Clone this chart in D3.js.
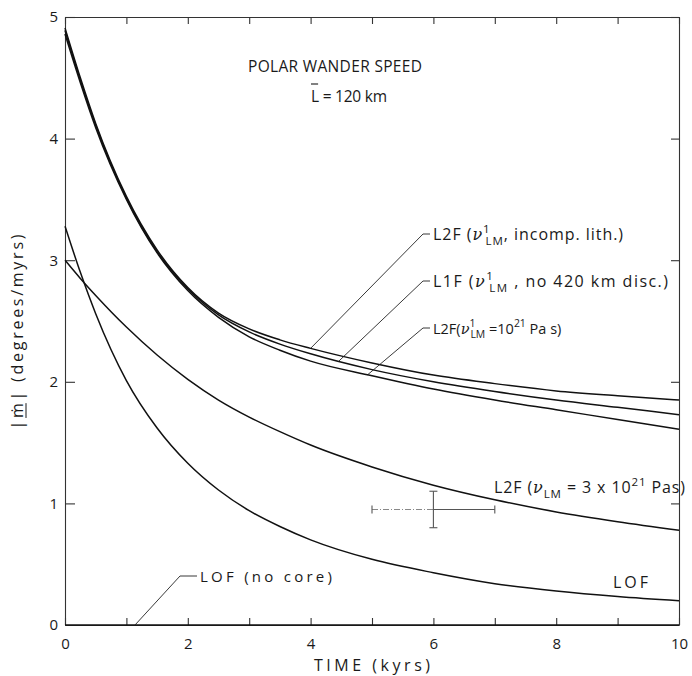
<!DOCTYPE html>
<html>
<head>
<meta charset="utf-8">
<script src="https://cdn.jsdelivr.net/npm/d3@7"></script>
<style>
	body { margin: 0; background: #fff; }
	svg text { font-family: "Open Sans", "DejaVu Sans", sans-serif; fill: #1a1a1a; }
	.curve { fill: none; stroke: #111; stroke-width: 1.5; }
	.axis path, .axis line { stroke: #333; stroke-width: 1.1; }
	.axis text { font-size: 15px; }
	.leader { fill: none; stroke: #222; stroke-width: 0.9; }
	.errbar { stroke: #555; stroke-width: 1.1; fill: none; }
</style>
</head>
<body>
<div id="diagram"></div>
<script>
// time axis (kyrs) shared by all curves
var timeKyrs = [0, 0.25, 0.5, 1, 1.5, 2, 2.5, 3, 3.5, 4, 5, 6, 7, 8, 9, 10];

// polar wander speed |m| in degrees/myrs
var l2fIncompLith = [4.91, 4.50, 4.125, 3.525, 3.085, 2.775, 2.565, 2.435, 2.345, 2.275, 2.155, 2.055, 1.985, 1.925, 1.885, 1.85];
var l1fNo420      = [4.89, 4.48, 4.11, 3.51, 3.07, 2.765, 2.55, 2.41, 2.31, 2.23, 2.10, 2.00, 1.92, 1.85, 1.79, 1.73];
var l2fVisc1e21   = [4.86, 4.46, 4.09, 3.50, 3.06, 2.75, 2.53, 2.37, 2.26, 2.17, 2.05, 1.94, 1.85, 1.77, 1.69, 1.61];
var l2fVisc3e21   = [3.00, 2.85, 2.71, 2.45, 2.22, 2.02, 1.85, 1.71, 1.59, 1.48, 1.30, 1.15, 1.03, 0.93, 0.85, 0.78];
var lofCore       = [3.28, 2.90, 2.56, 2.01, 1.62, 1.33, 1.11, 0.94, 0.81, 0.70, 0.54, 0.43, 0.34, 0.28, 0.235, 0.20];
var lofNoCore     = [0, 0, 0, 0, 0, 0, 0, 0, 0, 0, 0, 0, 0, 0, 0, 0];

// error bar: time range and speed range (centre in the middle)
var errTime  = [5, 6, 7];
var errSpeed = [0.80, 0.95, 1.10];

// ticks
var xTicks = [0, 1, 2, 3, 4, 5, 6, 7, 8, 9, 10];
var xTickLabels = ["0", "", "2", "", "4", "", "6", "", "8", "", "10"];
var yTicks = [0, 1, 2, 3, 4, 5];
var yTickLabels = ["0", "1", "2", "3", "4", "5"];

(function drawDiagram () {

	var margin = {top: 17, right: 13, bottom: 51, left: 65};
	var widthGraph = 692, heightGraph = 676;
	var w = widthGraph - margin.left - margin.right;
	var h = heightGraph - margin.top - margin.bottom;

	var xScale = d3.scaleLinear().domain([0, 10]).range([0, w]);
	var yScale = d3.scaleLinear().domain([0, 5]).range([h, 0]);

	var svg = d3.select("div#diagram")
		.append("svg")
		.attr("width", widthGraph)
		.attr("height", heightGraph)
		.append("g")
			.attr("transform", "translate(" + margin.left + "," + margin.top + ")");

	// axes, ticks pointing inwards on all four sides
	svg.append("g")
		.attr("class", "axis axis-x")
		.attr("transform", "translate(0," + h + ")")
		.call(d3.axisBottom(xScale).tickValues(xTicks).tickSize(-7).tickSizeOuter(0).tickPadding(13)
			.tickFormat(function(d, i) { return xTickLabels[i]; }));
	svg.append("g")
		.attr("class", "axis axis-top")
		.call(d3.axisTop(xScale).tickValues(xTicks).tickSize(-7).tickSizeOuter(0).tickFormat(""));
	svg.append("g")
		.attr("class", "axis axis-y")
		.call(d3.axisLeft(yScale).tickValues(yTicks).tickSize(-10).tickSizeOuter(0).tickPadding(7)
			.tickFormat(function(d, i) { return yTickLabels[i]; }));
	svg.append("g")
		.attr("class", "axis axis-right")
		.attr("transform", "translate(" + w + ",0)")
		.call(d3.axisRight(yScale).tickValues(yTicks).tickSize(-8).tickSizeOuter(0).tickFormat(""));
	svg.selectAll(".axis-y .tick:first-of-type line, .axis-right .tick:first-of-type line").remove();

	// curves
	var series = [l2fIncompLith, l1fNo420, l2fVisc1e21, l2fVisc3e21, lofCore, lofNoCore];
	var line = d3.line()
		.x(function(d, i) { return xScale(timeKyrs[i]); })
		.y(function(d) { return yScale(d); })
		.curve(d3.curveMonotoneX);

	svg.selectAll("path.curve")
		.data(series)
		.enter()
		.append("path")
		.attr("class", "curve")
		.attr("d", line);

	// error bar
	var eb = svg.append("g").attr("class", "errbar");
	eb.append("line")
		.attr("x1", xScale(errTime[0])).attr("x2", xScale(errTime[1]))
		.attr("y1", yScale(errSpeed[1])).attr("y2", yScale(errSpeed[1]))
		.style("stroke-dasharray", "6,2,1,2").style("stroke", "#888");
	eb.append("line")
		.attr("x1", xScale(errTime[1])).attr("x2", xScale(errTime[2]))
		.attr("y1", yScale(errSpeed[1])).attr("y2", yScale(errSpeed[1]));
	eb.append("line")
		.attr("x1", xScale(errTime[1])).attr("x2", xScale(errTime[1]))
		.attr("y1", yScale(errSpeed[0])).attr("y2", yScale(errSpeed[2]));
	[errSpeed[0], errSpeed[2]].forEach(function(v) {
		eb.append("line")
			.attr("x1", xScale(errTime[1]) - 4).attr("x2", xScale(errTime[1]) + 4)
			.attr("y1", yScale(v)).attr("y2", yScale(v));
	});
	[errTime[0], errTime[2]].forEach(function(t) {
		eb.append("line")
			.attr("x1", xScale(t)).attr("x2", xScale(t))
			.attr("y1", yScale(errSpeed[1]) - 4).attr("y2", yScale(errSpeed[1]) + 4);
	});

	// value of a curve at time t (for leader anchors)
	function curveAt(values, t) {
		var i = d3.bisectLeft(timeKyrs, t);
		if (i <= 0) return values[0];
		var f = (t - timeKyrs[i - 1]) / (timeKyrs[i] - timeKyrs[i - 1]);
		return values[i - 1] + f * (values[i] - values[i - 1]);
	}

	// text with sub/superscripts, stretched to the width seen in the figure
	function richText(g, x, y, fs, len, parts) {
		var text = g.append("text").attr("x", x).attr("y", y).style("font-size", fs + "px");
		if (len) text.attr("textLength", len).attr("lengthAdjust", "spacing");
		var shift = 0;
		parts.forEach(function(p) {
			var target = p.sup ? -0.45 : (p.sub ? 0.3 : 0);
			var ts = text.append("tspan").text(p.t);
			if (target !== shift) ts.attr("dy", (target - shift) * fs);
			if (p.sup || p.sub) ts.style("font-size", (fs * 0.72) + "px");
			if (p.nu) ts.style("font-family", "'DejaVu Serif', serif").style("font-style", "italic");
			if (p.dx) ts.attr("dx", p.dx);
			shift = target;
		});
		return text;
	}

	var nu = {t: "\u03bd", nu: true};
	var labels = [
		{values: l2fIncompLith, at: 4.0, elbow: [358, 217], end: 365, fs: 16, len: 190,
			parts: [{t: "L2F ("}, nu, {t: "1", sup: true}, {t: "LM", sub: true, dx: -5}, {t: ", incomp. lith.)"}]},
		{values: l1fNo420, at: 4.46, elbow: [358, 264], end: 365, fs: 16, len: 235,
			parts: [{t: "L1F ("}, nu, {t: "1", sup: true}, {t: "LM", sub: true, dx: -5}, {t: " , no 420 km disc.)"}]},
		{values: l2fVisc1e21, at: 4.93, elbow: [358, 311], end: 365, fs: 14.5, len: null,
			parts: [{t: "L2F("}, nu, {t: "1", sup: true}, {t: "LM", sub: true, dx: -5}, {t: " =10"}, {t: "21", sup: true}, {t: " Pa s)"}]},
		{values: lofNoCore, at: 1.14, elbow: [115, 559], end: 132, fs: 15, len: 132,
			parts: [{t: "LOF (no core)"}]}
	];

	labels.forEach(function(l) {
		svg.append("path")
			.attr("class", "leader")
			.attr("d", d3.line()([[xScale(l.at), yScale(curveAt(l.values, l.at))], l.elbow, [l.end, l.elbow[1]]]));
		richText(svg, l.end + 3, l.elbow[1] + 6, l.fs, l.len, l.parts);
	});

	// labels without leaders
	richText(svg, 429, 476, 16, 191, [{t: "L2F ("}, nu, {t: "LM", sub: true}, {t: " = 3 x 10"}, {t: "21", sup: true}, {t: " Pas)"}]);
	richText(svg, 548, 571, 16, 35, [{t: "LOF"}]);

	// title
	richText(svg, 183, 55, 15.5, 174, [{t: "POLAR WANDER SPEED"}]);
	var sub = richText(svg, 246, 85, 15.5, 76, [{t: "L = 120 km"}]);
	var ext = sub.node().getExtentOfChar(0);
	svg.append("line")
		.attr("x1", ext.x).attr("x2", ext.x + ext.width - 1)
		.attr("y1", 85 - 18).attr("y2", 85 - 18)
		.style("stroke", "#1a1a1a").style("stroke-width", 1.1);

	// axis titles
	svg.append("text")
		.attr("x", w / 2).attr("y", h + 46)
		.attr("textLength", 116).attr("lengthAdjust", "spacing")
		.style("text-anchor", "middle").style("font-size", "16px")
		.text("TIME (kyrs)");
	var yl = svg.append("g").attr("transform", "translate(" + (23 - margin.left) + "," + (332 - margin.top) + ") rotate(-90)");
	var ytext = yl.append("text")
		.attr("textLength", 195).attr("lengthAdjust", "spacing")
		.style("text-anchor", "middle").style("font-size", "16px")
		.text("|\u1e41| (degrees/myrs)");
	var mExt = ytext.node().getExtentOfChar(1);
	yl.append("line")
		.attr("x1", mExt.x).attr("x2", mExt.x + mExt.width)
		.attr("y1", 3).attr("y2", 3)
		.style("stroke", "#1a1a1a").style("stroke-width", 1);
})();
</script>
</body>
</html>
